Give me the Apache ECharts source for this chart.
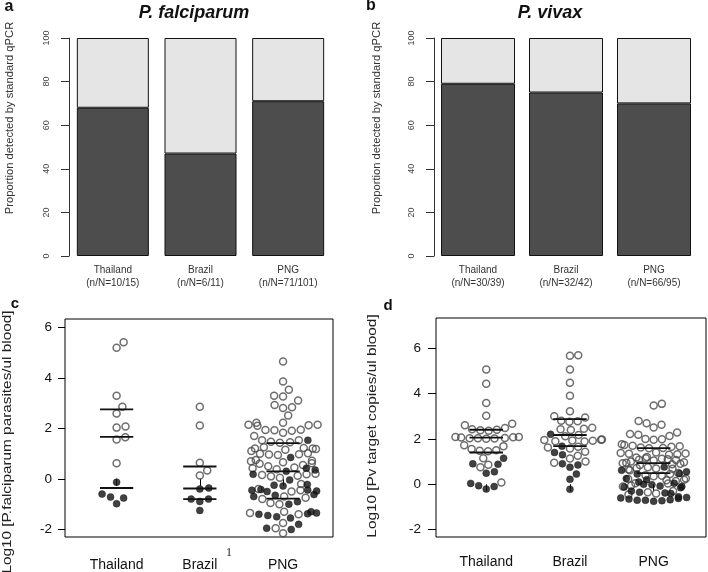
<!DOCTYPE html>
<html><head><meta charset="utf-8">
<script src="https://cdn.jsdelivr.net/npm/echarts@6/dist/echarts.min.js"></script>
<style>html,body{margin:0;padding:0;background:#fff}#chart{width:708px;height:572px}</style>
</head><body><div id="chart"></div>
<script>
// ---------- data ----------
const countries = ['Thailand', 'Brazil', 'PNG'];
const pfCounts = ['(n/N=10/15)', '(n/N=6/11)', '(n/N=71/101)'];
const pvCounts = ['(n/N=30/39)', '(n/N=32/42)', '(n/N=66/95)'];
const pfDetectedPct = [68, 47, 71];
const pvDetectedPct = [79, 75, 70];
const barTicks = [0, 20, 40, 60, 80, 100];
const logTicks = [-2, 0, 2, 4, 6];
const catTicks = [1, 2, 3];

// panel c: log10 P. falciparum parasites/ul (open = detected by standard qPCR, filled = not)
const pfThOpen = [5.41, 5.19, 3.29, 2.86, 2.59, 2.07, 2.03, 1.65, 1.56, 0.62];
const pfThFilled = [-0.13, -0.60, -0.72, -0.76, -0.98];
const pfBrOpen = [2.86, 2.11, 0.64, 0.33, 0.13];
const pfBrFilled = [-0.36, -0.40, -0.80, -0.80, -0.89, -1.25];
const pfPngOpen = [4.65, 3.86, 3.53, 3.29, 3.26, 3.10, 2.93, 2.84, 2.81, 2.51,
  2.22, 2.22, 2.14, 2.14, 2.12, 2.10, 1.95, 1.94, 1.93, 1.91, 1.83, 1.70,
  1.53, 1.53, 1.47, 1.45, 1.43, 1.25, 1.22, 1.20, 1.20, 1.18, 1.15, 1.10,
  1.02, 1.00, 0.98, 0.97, 0.95, 0.75, 0.72, 0.70, 0.66, 0.62, 0.60,
  0.55, 0.50, 0.45, 0.42, 0.38, 0.20, 0.18, 0.15, 0.12, 0.10, 0.05,
  -0.20, -0.40, -0.45, -0.50, -0.70, -0.75, -0.80, -0.95, -1.00,
  -1.30, -1.35, -1.40, -1.75, -1.95, -2.15];
const pfPngFilled = [1.53, 0.85, 0.42, 0.35, 0.30, 0.18, -0.04, -0.22, -0.25, -0.28,
  -0.42, -0.44, -0.45, -0.48, -0.50, -0.62, -0.65, -0.70, -0.90, -1.00,
  -1.30, -1.35, -1.38, -1.40, -1.45, -1.50, -1.55, -1.80, -1.95, -2.00];
const pfQuartiles = [[2.75, 1.66, -0.36], [0.49, -0.38, -0.80], [1.42, 0.30, -0.78]];

// panel d: log10 Pv target copies/ul
const pvThOpen = [5.05, 4.43, 3.58, 3.02, 2.66, 2.60, 2.48, 2.42, 2.40, 2.38, 2.36,
  2.08, 2.08, 2.07, 2.06, 2.04, 2.03, 2.03, 2.02, 2.01, 1.72, 1.68,
  1.55, 1.50, 1.48, 1.45, 1.15, 0.86, 0.75, 0.08];
const pvThFilled = [1.15, 0.90, 0.88, 0.55, 0.49, 0.04, -0.06, -0.10, -0.21];
const pvBrOpen = [5.68, 5.66, 5.05, 4.47, 3.90, 3.22, 3.00, 2.94, 2.80, 2.78, 2.75,
  2.49, 2.45, 2.42, 2.39, 2.17, 2.12, 1.97, 1.96, 1.95, 1.93, 1.92, 1.90, 1.88,
  1.65, 1.62, 1.58, 1.43, 1.26, 1.14, 1.00, 0.95];
const pvBrFilled = [2.20, 1.68, 1.40, 1.30, 0.90, 0.85, 0.75, 0.45, 0.22, -0.22];
const pvPngOpen = [3.54, 3.47, 2.79, 2.69, 2.62, 2.50, 2.28, 2.21, 2.18, 2.13,
  1.99, 1.98, 1.96, 1.76, 1.73, 1.70, 1.67, 1.65, 1.62, 1.60, 1.59,
  1.40, 1.38, 1.36, 1.35, 1.32, 1.30, 1.20, 1.18, 1.15, 1.12, 1.10, 1.08, 1.07, 1.05, 1.00,
  0.97, 0.95, 0.93, 0.90, 0.88, 0.85, 0.75, 0.72, 0.70, 0.68, 0.65, 0.62,
  0.50, 0.45, 0.40, 0.38, 0.35, 0.25, 0.23, 0.20, 0.18, 0.15,
  0.05, 0.03, -0.05, -0.10, -0.30, -0.35, -0.40, -0.45];
const pvPngFilled = [0.76, 0.62, 0.55, 0.48, 0.45, 0.25, 0.20, 0.10, 0.05, 0.00,
  -0.02, -0.08, -0.10, -0.12, -0.15, -0.30, -0.35, -0.38, -0.40,
  -0.55, -0.58, -0.60, -0.62, -0.65, -0.68, -0.70, -0.70, -0.72, -0.75];
const pvQuartiles = [[2.40, 2.05, 1.40], [2.87, 2.17, 1.68], [1.59, 0.93, 0.49]];

// ---------- layout helpers ----------
const FONT = 'Liberation Sans, Arial, sans-serif';

// beeswarm ("swarm" method, ascending priority, corral = wrap): offsets in px
function swarm(points, pxPerY, D, W) {
  const order = points.map((p, i) => i).sort((a, b) => points[a].v - points[b].v);
  const placed = [];
  const out = new Array(points.length);
  for (const i of order) {
    const y = points[i].v * pxPerY;
    const cands = [0];
    for (const p of placed) {
      const dy = Math.abs(p.y - y);
      if (dy < D) {
        const dx = Math.sqrt(D * D - dy * dy);
        cands.push(p.x + dx, p.x - dx);
      }
    }
    cands.sort((a, b) => Math.abs(a) - Math.abs(b));
    let best = 0;
    for (const c of cands) {
      if (placed.every(p => (p.x - c) * (p.x - c) + (p.y - y) * (p.y - y) >= D * D - 1e-6)) { best = c; break; }
    }
    placed.push({ x: best, y: y });
    out[i] = best;
  }
  return out.map(o => {
    if (Math.abs(o) <= W) return o;
    const m = ((o + W) % (2 * W) + 2 * W) % (2 * W);
    return m - W;
  });
}

function buildSwarm(groups, pxPerY, pxPerX, D, W) {
  const open = [], filled = [];
  groups.forEach((g, gi) => {
    const pts = g.open.map(v => ({ v, f: false })).concat(g.filled.map(v => ({ v, f: true })));
    const off = swarm(pts, pxPerY, D, W);
    pts.forEach((p, i) => {
      const item = [gi + 1 + off[i] / pxPerX, p.v];
      (p.f ? filled : open).push(item);
    });
  });
  return { open, filled };
}

const cSw = buildSwarm([
  { open: pfThOpen, filled: pfThFilled },
  { open: pfBrOpen, filled: pfBrFilled },
  { open: pfPngOpen, filled: pfPngFilled }], 25.5, 83.3, 9, 35);
const dSw = buildSwarm([
  { open: pvThOpen, filled: pvThFilled },
  { open: pvBrOpen, filled: pvBrFilled },
  { open: pvPngOpen, filled: pvPngFilled }], 22.7, 83.8, 8.3, 33);

function quartileSeries(q, xi) {
  const out = [];
  q.forEach((vals, gi) => vals.forEach(v => {
    out.push({
      type: 'line', xAxisIndex: xi, yAxisIndex: xi, symbol: 'none', silent: true, z: 5,
      lineStyle: { color: '#111', width: 1.8 },
      data: [[gi + 1 - 0.2, v], [gi + 1 + 0.2, v]]
    });
  }));
  return out;
}

function barX(gi, counts) {
  return {
    type: 'category', gridIndex: gi, data: countries,
    axisLine: { show: false }, axisTick: { show: false },
    axisLabel: {
      formatter: (v, i) => v + '\n' + counts[i], fontSize: 10, lineHeight: 13,
      margin: 8, color: '#333', fontFamily: FONT
    }
  };
}
function barY(gi) {
  return {
    type: 'value', gridIndex: gi, min: 0, max: 100, interval: 20,
    splitLine: { show: false },
    axisLine: { show: true, lineStyle: { color: '#333', width: 1 } },
    axisTick: { show: true, length: 8, lineStyle: { color: '#333' } },
    axisLabel: { rotate: 90, fontSize: 9, margin: 18, color: '#444', fontFamily: FONT }
  };
}
function swX(gi, min, max, margin) {
  return {
    type: 'value', gridIndex: gi, min, max,
    splitLine: { show: false }, axisLine: { show: false },
    axisTick: { show: true, customValues: catTicks, length: 7, lineStyle: { color: '#000' } },
    axisLabel: {
      customValues: catTicks, formatter: v => countries[Math.round(v) - 1],
      fontSize: 14, margin, color: '#111', fontFamily: FONT
    }
  };
}
function swY(gi, min, max, tickLen, margin) {
  return {
    type: 'value', gridIndex: gi, min, max,
    splitLine: { show: false }, axisLine: { show: false },
    axisTick: { show: true, customValues: logTicks, length: tickLen, lineStyle: { color: '#000' } },
    axisLabel: { customValues: logTicks, fontSize: 13.5, margin, color: '#111', fontFamily: FONT }
  };
}

const openStyle = { color: 'rgba(255,255,255,0)', borderColor: '#4a4a4a', borderWidth: 1.5 };
const filledStyle = { color: '#111', borderColor: '#111', borderWidth: 0.5 };

const option = {
  animation: false,
  backgroundColor: '#fff',
  grid: [
    { left: 69, top: 38, width: 263, height: 218 },
    { left: 434, top: 38, width: 264, height: 218 },
    { left: 65, top: 319, width: 268, height: 220, show: true, borderColor: '#000', borderWidth: 1 },
    { left: 436, top: 318, width: 270, height: 219, show: true, borderColor: '#000', borderWidth: 1 }
  ],
  xAxis: [barX(0, pfCounts), barX(1, pvCounts), swX(2, 0.38, 3.6, 21), swX(3, 0.40, 3.625, 18)],
  yAxis: [barY(0), barY(1), swY(2, -2.3, 6.33, 7, 13), swY(3, -2.32, 7.32, 8, 15)],
  series: [
    { type: 'bar', xAxisIndex: 0, yAxisIndex: 0, stack: 'a', barWidth: 72, data: pfDetectedPct,
      itemStyle: { color: '#4d4d4d', borderColor: '#111', borderWidth: 1 } },
    { type: 'bar', xAxisIndex: 0, yAxisIndex: 0, stack: 'a', barWidth: 72, data: pfDetectedPct.map(v => 100 - v),
      itemStyle: { color: '#e5e5e5', borderColor: '#111', borderWidth: 1 } },
    { type: 'bar', xAxisIndex: 1, yAxisIndex: 1, stack: 'b', barWidth: 74, data: pvDetectedPct,
      itemStyle: { color: '#4d4d4d', borderColor: '#111', borderWidth: 1 } },
    { type: 'bar', xAxisIndex: 1, yAxisIndex: 1, stack: 'b', barWidth: 74, data: pvDetectedPct.map(v => 100 - v),
      itemStyle: { color: '#e5e5e5', borderColor: '#111', borderWidth: 1 } },
    { type: 'scatter', xAxisIndex: 2, yAxisIndex: 2, symbolSize: 7, data: cSw.open, itemStyle: openStyle },
    { type: 'scatter', xAxisIndex: 2, yAxisIndex: 2, symbolSize: 7, data: cSw.filled, itemStyle: filledStyle },
    { type: 'scatter', xAxisIndex: 3, yAxisIndex: 3, symbolSize: 7, data: dSw.open, itemStyle: openStyle },
    { type: 'scatter', xAxisIndex: 3, yAxisIndex: 3, symbolSize: 7, data: dSw.filled, itemStyle: filledStyle }
  ].concat(quartileSeries(pfQuartiles, 2), quartileSeries(pvQuartiles, 3)),
  graphic: [
    { type: 'text', x: 194, y: 13, style: { text: 'P. falciparum', fontSize: 18, fontWeight: 'bold', fontStyle: 'italic', fontFamily: FONT, fill: '#111', align: 'center', verticalAlign: 'middle' } },
    { type: 'text', x: 550, y: 13, style: { text: 'P. vivax', fontSize: 18, fontWeight: 'bold', fontStyle: 'italic', fontFamily: FONT, fill: '#111', align: 'center', verticalAlign: 'middle' } },
    { type: 'text', x: 9, y: 7, style: { text: 'a', fontSize: 16, fontWeight: 'bold', fontFamily: FONT, fill: '#111', align: 'center', verticalAlign: 'middle' } },
    { type: 'text', x: 371, y: 6, style: { text: 'b', fontSize: 16, fontWeight: 'bold', fontFamily: FONT, fill: '#111', align: 'center', verticalAlign: 'middle' } },
    { type: 'text', x: 15, y: 304, style: { text: 'c', fontSize: 15, fontWeight: 'bold', fontFamily: FONT, fill: '#111', align: 'center', verticalAlign: 'middle' } },
    { type: 'text', x: 388, y: 306, style: { text: 'd', fontSize: 15, fontWeight: 'bold', fontFamily: FONT, fill: '#111', align: 'center', verticalAlign: 'middle' } },
    { type: 'text', x: 10, y: 118, rotation: Math.PI / 2, scaleX: 1.1,
      style: { text: 'Proportion detected by standard qPCR', fontSize: 10.2, fontFamily: FONT, fill: '#333', align: 'center', verticalAlign: 'middle' } },
    { type: 'text', x: 377, y: 118, rotation: Math.PI / 2, scaleX: 1.1,
      style: { text: 'Proportion detected by standard qPCR', fontSize: 10.2, fontFamily: FONT, fill: '#333', align: 'center', verticalAlign: 'middle' } },
    { type: 'text', x: 7, y: 442, rotation: Math.PI / 2, scaleX: 1.12,
      style: { text: 'Log10 [P.falciparum parasites/ul blood]', fontSize: 13.7, fontFamily: FONT, fill: '#222', align: 'center', verticalAlign: 'middle' } },
    { type: 'text', x: 372, y: 426, rotation: Math.PI / 2, scaleX: 1.12,
      style: { text: 'Log10 [Pv target copies/ul blood]', fontSize: 13.7, fontFamily: FONT, fill: '#222', align: 'center', verticalAlign: 'middle' } },
    { type: 'text', x: 229, y: 553, style: { text: '1', fontSize: 12, fontFamily: 'Liberation Serif, serif', fill: '#222', align: 'center', verticalAlign: 'middle' } }
  ]
};

const chart = echarts.init(document.getElementById('chart'), null, { renderer: 'canvas' });
chart.setOption(option);
</script>
</body></html>
